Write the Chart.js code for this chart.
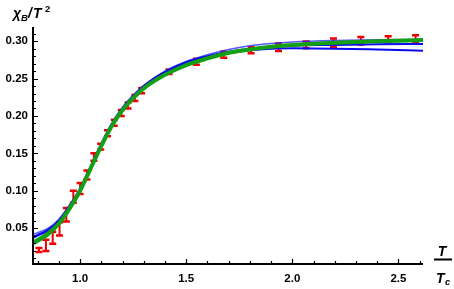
<!DOCTYPE html>
<html>
<head>
<meta charset="utf-8">
<script src="https://cdn.jsdelivr.net/npm/chart.js@4.4.1/dist/chart.umd.min.js"></script>
<style>
  html, body { margin: 0; padding: 0; background: #fff; }
  #wrap { width: 454px; height: 289px; }
</style>
</head>
<body>
<div id="wrap"><canvas id="myChart"></canvas></div>
<script>
// lattice points: T/Tc, chi_B/T^2, error
const tData   = [0.806, 0.839, 0.871, 0.903, 0.935, 0.968, 1.0, 1.032, 1.065, 1.097, 1.129, 1.161, 1.194, 1.226, 1.258, 1.29, 1.419, 1.548, 1.677, 1.806, 1.935, 2.065, 2.194, 2.323, 2.452, 2.581];
const chiData = [0.0206, 0.027, 0.037, 0.049, 0.068, 0.092, 0.103, 0.121, 0.145, 0.159, 0.177, 0.191, 0.204, 0.214, 0.224, 0.234, 0.259, 0.2725, 0.282, 0.288, 0.292, 0.295, 0.298, 0.3005, 0.3025, 0.3035];
const chiErr  = [0.0027, 0.0075, 0.008, 0.009, 0.009, 0.008, 0.0075, 0.006, 0.005, 0.004, 0.004, 0.004, 0.004, 0.004, 0.004, 0.0035, 0.003, 0.004, 0.004, 0.004, 0.005, 0.0045, 0.0055, 0.005, 0.004, 0.0045];

// model curves
const tGrid     = [0.778, 0.8, 0.85, 0.9, 0.95, 1.0, 1.05, 1.1, 1.15, 1.2, 1.25, 1.3, 1.4, 1.5, 1.6, 1.7, 1.8, 1.9, 2.0, 2.2, 2.4, 2.616];
const greenMain = [0.031, 0.034, 0.043, 0.056, 0.076, 0.100, 0.130, 0.160, 0.187, 0.208, 0.224, 0.237, 0.255, 0.268, 0.277, 0.2845, 0.289, 0.2925, 0.295, 0.298, 0.300, 0.3015];
const greenLow  = [0.028, 0.031, 0.040, 0.054, 0.075, 0.100, 0.130, 0.159, 0.186, 0.207, 0.223, 0.236, 0.254, 0.267, 0.276, 0.2835, 0.288, 0.2915, 0.294, 0.297, 0.299, 0.3005];
const blueA     = [0.042, 0.044, 0.050, 0.062, 0.081, 0.104, 0.134, 0.164, 0.191, 0.212, 0.228, 0.241, 0.260, 0.273, 0.282, 0.289, 0.294, 0.297, 0.299, 0.301, 0.302, 0.3025];
const blueB     = [0.039, 0.041, 0.048, 0.060, 0.079, 0.102, 0.132, 0.162, 0.189, 0.210, 0.226, 0.240, 0.259, 0.272, 0.280, 0.286, 0.290, 0.2925, 0.294, 0.295, 0.2958, 0.2963];
const blueC     = [0.037, 0.040, 0.047, 0.059, 0.078, 0.101, 0.131, 0.161, 0.188, 0.209, 0.225, 0.239, 0.258, 0.271, 0.279, 0.284, 0.288, 0.290, 0.2905, 0.290, 0.2888, 0.2873];

const xTicks = [1.0, 1.5, 2.0, 2.5];
const yTicks = [0.05, 0.10, 0.15, 0.20, 0.25, 0.30];

const pts = (ys) => tGrid.map((t, i) => ({ x: t, y: ys[i] }));

const line = (ys, color, width) => ({
    data: pts(ys),
    borderColor: color,
    borderWidth: width,
    pointRadius: 0,
    fill: false,
    cubicInterpolationMode: 'monotone'
});

const errorBars = {
    id: 'errorBars',
    beforeDatasetsDraw(chart) {
        const { ctx, scales: { x, y } } = chart;
        ctx.save();
        ctx.strokeStyle = 'rgb(240,0,0)';
        tData.forEach((t, i) => {
            const px = x.getPixelForValue(t);
            const lo = y.getPixelForValue(chiData[i] - chiErr[i]);
            const hi = y.getPixelForValue(chiData[i] + chiErr[i]);
            ctx.lineWidth = 2;
            ctx.beginPath();
            ctx.moveTo(px, lo); ctx.lineTo(px, hi);
            ctx.stroke();
            ctx.lineWidth = 2.5;
            ctx.beginPath();
            ctx.moveTo(px - 3.5, lo); ctx.lineTo(px + 3.5, lo);
            ctx.moveTo(px - 3.5, hi); ctx.lineTo(px + 3.5, hi);
            ctx.stroke();
        });
        ctx.restore();
    }
};

const axes = {
    id: 'axes',
    afterDraw(chart) {
        const { ctx, chartArea: a, scales: { x, y } } = chart;
        ctx.save();
        ctx.strokeStyle = '#000';
        ctx.lineWidth = 2;
        ctx.beginPath();
        ctx.moveTo(a.left, a.top); ctx.lineTo(a.left, a.bottom);
        ctx.lineTo(a.right, a.bottom);
        ctx.stroke();

        ctx.lineWidth = 1.2;
        ctx.beginPath();
        for (let k = 1; k <= 31; k++) {
            const v = k / 100;
            const py = Math.round(y.getPixelForValue(v)) + 0.5;
            const len = (k % 5 === 0) ? 5 : 3;
            ctx.moveTo(a.left, py); ctx.lineTo(a.left + len, py);
        }
        for (let k = 8; k <= 26; k++) {
            const v = k / 10;
            const px = Math.round(x.getPixelForValue(v)) + 0.5;
            const len = (k % 5 === 0) ? 5 : 3;
            ctx.moveTo(px, a.bottom); ctx.lineTo(px, a.bottom - len);
        }
        ctx.stroke();

        // axis titles
        ctx.fillStyle = '#000';
        ctx.textBaseline = 'alphabetic';
        ctx.textAlign = 'left';
        ctx.font = 'italic bold 14px "Liberation Sans"';
        ctx.fillText('χ', 13, 18);
        ctx.font = 'italic bold 9.5px "Liberation Sans"';
        ctx.fillText('B', 21, 21);
        ctx.font = 'italic bold 14px "Liberation Sans"';
        ctx.fillText('/', 28, 18);
        ctx.fillText('T', 33, 18);
        ctx.font = 'bold 9.5px "Liberation Sans"';
        ctx.fillText('2', 45, 12);

        ctx.font = 'italic bold 14px "Liberation Sans"';
        ctx.textAlign = 'center';
        ctx.fillText('T', 442, 256);
        ctx.fillRect(434, 258.5, 18, 2);
        ctx.textAlign = 'left';
        ctx.fillText('T', 436, 283);
        ctx.font = 'italic bold 9.5px "Liberation Sans"';
        ctx.fillText('c', 445, 285);
        ctx.restore();
    }
};

const tickFont = { family: 'Liberation Sans', size: 11.5, weight: 'bold' };

new Chart(document.getElementById('myChart'), {
    type: 'line',
    data: {
        datasets: [
            line(greenLow, 'rgba(20,160,20,0.9)', 1.5),
            line(greenMain, 'rgb(20,160,20)', 4),
            line(blueC, 'rgb(10,10,240)', 2),
            line(blueB, 'rgb(10,10,240)', 2),
            line(blueA, 'rgba(30,30,250,0.75)', 1.5)
        ]
    },
    options: {
        responsive: true,
        maintainAspectRatio: false,
        animation: false,
        layout: { padding: { top: 27, right: 31, left: 0, bottom: 0 } },
        plugins: { legend: { display: false }, tooltip: { enabled: false } },
        scales: {
            x: {
                type: 'linear',
                min: 0.778,
                max: 2.616,
                grid: { display: false, drawTicks: false },
                border: { display: false },
                afterBuildTicks: (s) => { s.ticks = xTicks.map(v => ({ value: v })); },
                afterFit: (s) => { s.height = 25; },
                ticks: { font: tickFont, color: '#000', padding: 8, maxRotation: 0, callback: (v) => v.toFixed(1) }
            },
            y: {
                type: 'linear',
                min: 0.002,
                max: 0.319,
                grid: { display: false, drawTicks: false },
                border: { display: false },
                afterBuildTicks: (s) => { s.ticks = yTicks.map(v => ({ value: v })); },
                afterFit: (s) => { s.width = 33; },
                ticks: { font: tickFont, color: '#000', padding: 5, callback: (v) => v.toFixed(2) }
            }
        }
    },
    plugins: [errorBars, axes]
});
</script>
</body>
</html>
